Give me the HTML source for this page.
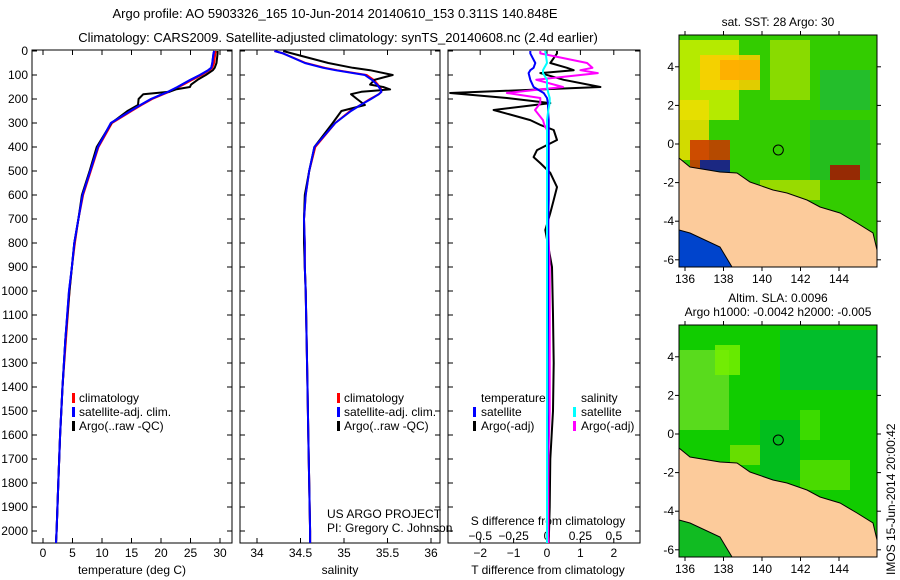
<!DOCTYPE html>
<html><head><meta charset="utf-8"><style>
body{margin:0;background:#fff;}
svg{display:block;font-family:"Liberation Sans",sans-serif;}
text{fill:#000;}
</style></head><body>
<svg id="fig" width="900" height="580" viewBox="0 0 900 580" xmlns="http://www.w3.org/2000/svg">
<rect width="900" height="580" fill="#fff"/>
<text x="335" y="18" font-size="13" text-anchor="middle">Argo profile: AO 5903326_165 10-Jun-2014 20140610_153 0.311S 140.848E</text>
<text x="338" y="42" font-size="13" text-anchor="middle">Climatology: CARS2009. Satellite-adjusted climatology: synTS_20140608.nc (2.4d earlier)</text>
<g id="p1"></g>
<g id="p2"></g>
<g id="p3"></g>
<g id="m1"></g>
<g id="m2"></g>
<text transform="translate(895,575) rotate(-90)" font-size="12">IMOS 15-Jun-2014 20:00:42</text>
</svg>
<script>
const depths=[0,10,50,70,80,100,120,140,150,160,170,180,200,225,250,300,400,500,600,700,800,900,1000,1200,1400,1600,1800,2000,2050];
const tempClim=[29.3,29.2,29.0,28.7,28.2,26.9,25.3,23.8,23.0,22.2,21.4,20.4,18.5,16.7,15.0,11.7,9.4,8.1,6.8,6.0,5.4,4.9,4.5,3.9,3.3,2.9,2.6,2.3,2.2];
const tempSat=[29.0,28.9,28.7,28.5,28.0,26.6,25.0,23.5,22.8,22.0,21.2,20.2,18.3,16.5,14.8,11.5,9.3,8.0,6.7,6.0,5.3,4.9,4.4,3.8,3.3,2.9,2.6,2.3,2.2];
const tempArgo=[29.6,29.6,29.4,29.1,28.8,27.6,26.2,25.1,24.9,22.5,21.4,17.0,16.2,16.1,14.3,11.6,9.1,7.9,6.6,6.0,5.3,4.9,4.5,3.8,3.3,2.9,2.6,2.3,2.2];
const salClim=[34.2,34.3,34.56,34.78,34.92,35.26,35.34,35.39,35.41,35.43,35.43,35.4,35.3,35.19,35.07,34.9,34.67,34.6,34.56,34.54,34.55,34.55,34.56,34.57,34.58,34.59,34.6,34.61,34.61];
const salSat=[34.2,34.3,34.55,34.76,34.9,35.24,35.32,35.38,35.4,35.42,35.43,35.4,35.31,35.19,35.08,34.9,34.66,34.6,34.56,34.54,34.55,34.55,34.56,34.57,34.58,34.59,34.6,34.61,34.61];
const salArgo=[34.3,34.4,34.82,35.1,35.3,35.56,35.35,35.3,35.45,35.53,35.2,35.08,35.15,35.24,34.97,34.87,34.66,34.6,34.55,34.54,34.54,34.55,34.56,34.57,34.58,34.59,34.6,34.61,34.61];
const diffDepths=[0,10,50,70,80,92,120,150,175,196,217,246,288,308,329,371,413,442,467,508,567,621,675,746,900,1100,1300,1500,1700,1900,2050];
const tDiffArgo=[0.3,0.3,0.1,0.6,0.8,-0.2,0.5,1.6,-2.9,-1.2,0.1,-1.6,-0.5,-0.2,0.2,0.3,-0.3,-0.4,-0.2,0.1,0.3,0.2,0.1,-0.05,0.15,0.18,0.2,0.18,0.1,0.08,0.05];
const tDiffSat=[-0.5,-0.5,-0.35,-0.4,-0.5,-0.55,-0.5,-0.4,-0.1,0,0.03,0.03,0.05,0.05,0.05,0.05,0.05,0.05,0.05,0.05,0.05,0.05,0.04,0.04,0.03,0.03,0.02,0.02,0.01,0.0,0.0];
const sDiffArgo=[-0.05,-0.05,0.3,0.34,0.25,0.38,-0.08,0.12,-0.3,-0.05,-0.05,-0.09,-0.03,-0.02,0,0,0,0,0,0,0.01,0.01,0.01,0.01,0.02,0.02,0.02,0.02,0.01,0.01,0.01];
const sDiffSat=[-0.015,-0.01,0,-0.02,-0.03,-0.03,0,0,0.01,0.02,0.02,0.01,0,0,0,0,0,0,0,0,0,0,0,0,0,0,0,0,0,0,0];
const depthTicks=[0,100,200,300,400,500,600,700,800,900,1000,1100,1200,1300,1400,1500,1600,1700,1800,1900,2000];
const tempTicks=[0,5,10,15,20,25,30];
const salTicks=[34,34.5,35,35.5,36];
const tDiffTicks=[-2,-1,0,1,2];
const sDiffTicks=[-0.5,-0.25,0,0.25,0.5];
const lonTicks=[136,138,140,142,144];
const latTicks=[4,2,0,-2,-4,-6];

const NS="http://www.w3.org/2000/svg";
function mk(parent,tag,attrs){const e=document.createElementNS(NS,tag);for(const k in attrs)e.setAttribute(k,attrs[k]);parent.appendChild(e);return e;}
const TOP=50,BOT=543;
const yD=d=>51+d*0.24;

function frame(g,x0,x1,xticks,xs,tickLabelY,showY){
  const r=mk(g,'rect',{x:x0,y:TOP,width:x1-x0,height:BOT-TOP,fill:'none',stroke:'#000','stroke-width':1});
  
  depthTicks.forEach(d=>{const y=yD(d);
    mk(g,'line',{x1:x0,x2:x0+5,y1:y,y2:y,stroke:'#000'});mk(g,'line',{x1:x1-5,x2:x1,y1:y,y2:y,stroke:'#000'});
    if(showY){const t=mk(g,'text',{x:28,y:y+4,'font-size':12,'text-anchor':'end'});t.textContent=d;
      }
  });
  xticks.forEach(v=>{const x=xs(v);
    mk(g,'line',{x1:x,x2:x,y1:TOP,y2:TOP+5,stroke:'#000'});mk(g,'line',{x1:x,x2:x,y1:BOT-5,y2:BOT,stroke:'#000'});
    const t=mk(g,'text',{x:x,y:tickLabelY,'font-size':12,'text-anchor':'middle'});t.textContent=String(v).replace('-','\u2212');
    
  });
}
function line(g,ds,vs,xs,color,name,clip){
  const pts=ds.map((d,i)=>Math.max(clip[0],Math.min(clip[1],xs(vs[i]))).toFixed(1)+','+yD(d).toFixed(1)).join(' ');
  const p=mk(g,'polyline',{points:pts,fill:'none',stroke:color,'stroke-width':2,'stroke-linejoin':'round'});
  
}
function txt(g,x,y,s,name,opts){const t=mk(g,'text',Object.assign({x:x,y:y,'font-size':12},opts||{}));t.textContent=s;
  return t;}
function legendBar(g,x,y,color){const r=mk(g,'rect',{x:x,y:y-9,width:3,height:10,fill:color});
  }

// Panel 1
const p1=document.getElementById('p1');const xT=t=>43+t*5.9;
frame(p1,32,232,tempTicks,xT,557,true);
line(p1,depths,tempClim,xT,'#f00','temp-climatology-line',[32,232]);
line(p1,depths,tempSat,xT,'#00f','temp-satellite-line',[32,232]);
line(p1,depths,tempArgo,xT,'#000','temp-argo-line',[32,232]);
line(p1,depths,tempSat,xT,'#00f','temp-satellite-line-top',[32,232]);
txt(p1,132,574,'temperature (deg C)','x-axis-title',{'text-anchor':'middle'});
[['#f00','climatology'],['#00f','satellite-adj. clim.'],['#000','Argo(..raw -QC)']].forEach((e,i)=>{legendBar(p1,72,402+i*14,e[0]);txt(p1,79,402+i*14,e[1],'legend-entry');});

// Panel 2
const p2=document.getElementById('p2');const xS=s=>257+(s-34)*87;
frame(p2,240,440,salTicks,xS,557,false);
line(p2,depths,salClim,xS,'#f00','sal-climatology-line',[240,440]);
line(p2,depths,salArgo,xS,'#000','sal-argo-line',[240,440]);
line(p2,depths,salSat,xS,'#00f','sal-satellite-line',[240,440]);
txt(p2,340,574,'salinity','x-axis-title',{'text-anchor':'middle'});
[['#f00','climatology'],['#00f','satellite-adj. clim.'],['#000','Argo(..raw -QC)']].forEach((e,i)=>{legendBar(p2,337,402+i*14,e[0]);txt(p2,344,402+i*14,e[1],'legend-entry');});
txt(p2,327,518,'US ARGO PROJECT','project-label');
txt(p2,327,532,'PI: Gregory C. Johnson','pi-label');

// Panel 3
const p3=document.getElementById('p3');const xTd=t=>547+t*33.4;const xSd=s=>547+s*133.6;
frame(p3,448,640,tDiffTicks,xTd,557,false);
sDiffTicks.forEach(v=>txt(p3,xSd(v),540,String(v).replace('-','\u2212'),'s-diff-tick-label',{'text-anchor':'middle'}));
txt(p3,548,525,'S difference from climatology','s-diff-axis-title',{'text-anchor':'middle'});
txt(p3,548,574,'T difference from climatology','t-diff-axis-title',{'text-anchor':'middle'});
line(p3,diffDepths,tDiffArgo,xTd,'#000','t-diff-argo-line',[449,639]);
line(p3,diffDepths,sDiffArgo,xSd,'#f0f','s-diff-argo-line',[449,639]);
line(p3,diffDepths,tDiffSat,xTd,'#00f','t-diff-satellite-line',[449,639]);
line(p3,diffDepths,sDiffSat,xSd,'#0ff','s-diff-satellite-line',[449,639]);
txt(p3,481,402,'temperature','legend-heading');txt(p3,581,402,'salinity','legend-heading');
legendBar(p3,473,416,'#00f');txt(p3,481,416,'satellite','legend-entry');
legendBar(p3,473,430,'#000');txt(p3,481,430,'Argo(-adj)','legend-entry');
legendBar(p3,573,416,'#0ff');txt(p3,581,416,'satellite','legend-entry');
legendBar(p3,573,430,'#f0f');txt(p3,581,430,'Argo(-adj)','legend-entry');

// Maps
const lonX=l=>685+(l-136)*19.25;
function drawMap(g,dy,sst){
  const X0=679,X1=877,Y0=35+dy,Y1=267+dy;
  const latY=l=>144+dy-l*19.3;
  const bg=mk(g,'rect',{x:X0,y:Y0,width:X1-X0,height:Y1-Y0,fill:sst?'#33cc00':'#11cc00'});
  
  const patches=sst?[[679,40,60,80,'#ccee00'],[700,55,60,35,'#ffcc00'],[720,60,40,20,'#ffaa00'],[679,100,30,60,'#eedd00'],[770,40,40,60,'#99dd00'],[810,120,60,60,'#22bb22'],[760,180,60,20,'#aadd00'],[820,70,50,40,'#22bb33'],[690,140,40,30,'#cc3300'],[700,160,30,15,'#002299'],[830,165,30,15,'#aa1100']]
    :[[679,60,50,80,'#66dd22'],[715,55,25,30,'#77ee00'],[780,40,97,60,'#00bb33'],[760,130,40,60,'#00bb22'],[800,120,20,30,'#44dd00'],[730,155,30,20,'#77e000'],[800,170,50,30,'#55dd00']];
  patches.forEach(p=>{const r=mk(g,'rect',{x:p[0],y:p[1]+dy,width:p[2],height:p[3],fill:p[4],opacity:0.85});
    });
  const sea=mk(g,'polygon',{points:[[679,230],[690,233],[720,247],[732,267],[679,267]].map(p=>p[0]+','+(p[1]+dy)).join(' '),fill:sst?'#0044cc':'#11bb22'});
  
  const land=[[679,158],[690,167],[720,172],[737,173],[750,182],[773,190],[787,193],[807,200],[820,207],[840,213],[857,223],[873,233],[877,250],[877,267],[732,267],[720,247],[690,233],[679,230]];
  const lp=mk(g,'polygon',{points:land.map(p=>p[0]+','+(p[1]+dy)).join(' '),fill:'#fccb9b',stroke:'#000','stroke-width':1});
  
  const fr=mk(g,'rect',{x:X0,y:Y0,width:X1-X0,height:Y1-Y0,fill:'none',stroke:'#000'});
  
  lonTicks.forEach(l=>{const x=lonX(l);mk(g,'line',{x1:x,x2:x,y1:Y0-4,y2:Y0,stroke:'#000'});mk(g,'line',{x1:x,x2:x,y1:Y1,y2:Y1+4,stroke:'#000'});
    txt(g,x,Y1+16,String(l),'lon-tick-label',{'text-anchor':'middle'});});
  latTicks.forEach(l=>{const y=latY(l);mk(g,'line',{x1:X0-4,x2:X0,y1:y,y2:y,stroke:'#000'});mk(g,'line',{x1:X1,x2:X1+4,y1:y,y2:y,stroke:'#000'});
    txt(g,674,y+4,String(l),'lat-tick-label',{'text-anchor':'end'});});
  const c=mk(g,'circle',{cx:lonX(140.848),cy:latY(-0.311),r:5,fill:'none',stroke:'#000'});
  
}
const m1=document.getElementById('m1');drawMap(m1,0,true);
txt(m1,778,26,'sat. SST: 28 Argo: 30','sst-map-title',{'text-anchor':'middle'});
const m2=document.getElementById('m2');drawMap(m2,290,false);
txt(m2,778,302,'Altim. SLA: 0.0096','sla-map-title',{'text-anchor':'middle'});
txt(m2,778,316,'Argo h1000: -0.0042 h2000: -0.005','sla-map-subtitle',{'text-anchor':'middle'});
</script>
</body></html>
